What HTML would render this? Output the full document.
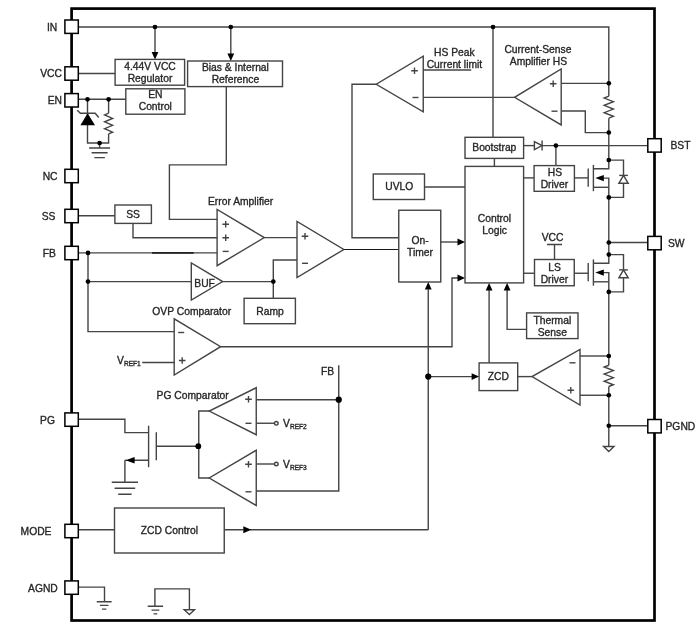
<!DOCTYPE html><html><head><meta charset="utf-8"><title>Block Diagram</title><style>
html,body{margin:0;padding:0;background:#fff;overflow:hidden;}
svg{display:block;will-change:transform;}
svg text{font-family:"Liberation Sans",sans-serif;font-size:10.3px;fill:#262626;stroke:#262626;stroke-width:0.33px;}
.wires path,.wires rect,.wires polygon,.wires circle{fill:none;stroke:#444;stroke-width:1.4;}
.wires .f{fill:#000;stroke:none;}
</style></head><body>
<svg width="700" height="627" viewBox="0 0 700 627">
<rect x="0" y="0" width="700" height="627" fill="#fff"/>
<rect x="71.6" y="8.6" width="582.9" height="611.9" fill="none" stroke="#000" stroke-width="2.7"/>
<g class="wires">
<path d="M79 27 H608.8 V96.2"/>
<path d="M608.80 96.20 L604.20 98.03 L613.40 101.70 L604.20 105.37 L613.40 109.03 L604.20 112.70 L613.40 116.37 L608.80 118.20"/>
<path d="M608.8 118.2 V160"/>
<path d="M155 27 V52"/>
<polygon points="151.6,52.1 158.4,52.1 155,59.6" class="f"/>
<path d="M230.8 27 V54"/>
<polygon points="227.4,53.5 234.20000000000002,53.5 230.8,61.0" class="f"/>
<path d="M493 27 V137.3"/>
<rect x="115.1" y="59.4" width="69.50" height="25.80"/>
<path d="M79 73.5 H115.1"/>
<rect x="125.8" y="88.8" width="59.10" height="25.40"/>
<path d="M79 99.3 H125.8"/>
<path d="M87.5 99.3 V143 H108.6 V134"/>
<polygon points="80.4,125.2 95.0,125.2 87.6,113.2" class="f"/>
<path d="M77.2 110.2 L80.4 113.2 H95.2 L98.7 117.5"/>
<path d="M108.6 99.3 V113.2"/>
<path d="M108.60 113.20 L104.60 114.92 L112.60 118.38 L104.60 121.83 L112.60 125.28 L104.60 128.72 L112.60 132.18 L108.60 133.90"/>
<path d="M99.6 143 V148"/>
<path d="M89.1 148 H110.1 M91.6 152.8 H107.6 M94.35 157.6 H104.85"/>
<rect x="187.6" y="61.0" width="94.90" height="25.60"/>
<path d="M226.3 86.75 V164.9 H169.4 V219.4 H217.1"/>
<rect x="114.9" y="205" width="36.50" height="18.40"/>
<path d="M79 215.7 H114.9"/>
<path d="M133 223.4 V237.7 H217.1"/>
<path d="M79 252.9 H217.1"/>
<path d="M152 252.9 H193.7" style="stroke:#222;stroke-width:1.6"/>
<path d="M88 252.9 V331.6 H174.2"/>
<path d="M88 281.6 H191.3"/>
<polygon points="217.1,209.4 217.1,265.7 264.3,237.6"/>
<path d="M222.39999999999998 224.3 H229.0 M225.7 221.0 V227.60000000000002"/>
<path d="M222.39999999999998 237.7 H229.0 M225.7 234.39999999999998 V241.0"/>
<path d="M222.7 251.4 H228.7"/>
<path d="M264.3 237.6 H297"/>
<polygon points="297,221.5 297,277.5 343.8,249.5"/>
<path d="M301.7 236.3 H308.3 M305 233.0 V239.60000000000002"/>
<path d="M302.0 263.3 H308.0"/>
<path d="M222.6 281.6 H273.3 V260 H297"/>
<path d="M273.3 281.6 V298.3"/>
<polygon points="191.3,262.9 191.3,300.0 222.6,281.6"/>
<rect x="244.1" y="298.3" width="51.30" height="25.40"/>
<polygon points="174.2,318.8 174.2,375 220.6,346.7"/>
<path d="M178.2 332.5 H184.2"/>
<path d="M178.89999999999998 360.5 H185.5 M182.2 357.2 V363.8"/>
<path d="M142.2 362.5 H174.2"/>
<path d="M220.6 346.7 H452 V278 H458"/>
<polygon points="457.5,274.6 457.5,281.4 465,278" class="f"/>
<path d="M343.8 249.5 H398.75" style="stroke:#1a1a1a;stroke-width:1.15"/>
<polygon points="423.25,56.25 423.25,111.75 376.25,84.25"/>
<path d="M411.2 70.8 H417.8 M414.5 67.5 V74.1"/>
<path d="M412.5 97.5 H418.5"/>
<path d="M376.25 84.25 H352 V237.75 H398.75"/>
<path d="M423.25 70 H471.25"/>
<path d="M423.25 97.4 H514.6"/>
<polygon points="561.2,69 561.2,124.9 514.6,97.3"/>
<path d="M549.9000000000001 83.8 H556.5 M553.2 80.5 V87.1"/>
<path d="M551.5 111.2 H557.5"/>
<path d="M561.2 83.4 H608.8"/>
<path d="M561.2 111 H585.3 V132.6 H608.8"/>
<rect x="465" y="137.3" width="58.60" height="21.10"/>
<path d="M523.6 145.6 H534.4"/>
<polygon points="534.4,141.6 534.4,149.6 542.1,145.6"/>
<path d="M542.1 140.6 V150.6"/>
<path d="M542.1 145.6 H647.5"/>
<path d="M555.9 145.6 V165.6"/>
<path d="M494.4 158.4 V166.4"/>
<rect x="465" y="166.4" width="58.60" height="116.50"/>
<rect x="373.25" y="174" width="51.25" height="25.50"/>
<path d="M424.5 187 H465"/>
<rect x="398.75" y="210.25" width="42.00" height="71.75"/>
<path d="M440.75 242 H458"/>
<polygon points="457.5,238.6 457.5,245.4 465,242" class="f"/>
<rect x="534.1" y="165.6" width="40.30" height="25.70"/>
<path d="M523.6 177.9 H534.1"/>
<path d="M574.4 177.9 H588.2"/>
<path d="M588.2 168.4 V186.79999999999998"/>
<path d="M593.4 164.9 V191.2"/>
<path d="M593.4 168.7 H608.8 V160.1"/>
<path d="M600 178.1 H608.8 V197.39999999999998"/>
<path d="M593.4 187.29999999999998 H608.8"/>
<polygon points="595.3,178.1 603.8,174.9 603.8,181.29999999999998" class="f"/>
<path d="M608.8 160.1 H623.5 V175.4"/>
<path d="M619.2 175.4 H627.9"/>
<polygon points="623.5,175.4 618.9,183.29999999999998 628.2,183.29999999999998"/>
<path d="M623.5 183.29999999999998 V197.39999999999998 H608.8"/>
<path d="M608.8 197.4 V254.6"/>
<path d="M608.8 242.5 H647.5"/>
<rect x="534.5" y="259.5" width="39.75" height="26.25"/>
<path d="M523.6 273.25 H534.5"/>
<path d="M574.25 273.25 H588.2"/>
<path d="M547 244.5 H562 M554.5 244.5 V259.5"/>
<path d="M588.2 262.9 V281.3"/>
<path d="M593.4 259.4 V285.7"/>
<path d="M593.4 263.2 H608.8 V254.6"/>
<path d="M600 272.6 H608.8 V291.9"/>
<path d="M593.4 281.8 H608.8"/>
<polygon points="595.3,272.6 603.8,269.40000000000003 603.8,275.8" class="f"/>
<path d="M608.8 254.6 H623.5 V269.9"/>
<path d="M619.2 269.9 H627.9"/>
<polygon points="623.5,269.9 618.9,277.8 628.2,277.8"/>
<path d="M623.5 277.8 V291.9 H608.8"/>
<path d="M608.8 291.9 V356"/>
<rect x="526.6" y="312.9" width="51.40" height="25.70"/>
<path d="M526.6 329.4 H507.1 V290"/>
<polygon points="503.70000000000005,290.4 510.5,290.4 507.1,282.9" class="f"/>
<rect x="479.1" y="362.9" width="38.60" height="27.70"/>
<path d="M489.1 362.9 V290"/>
<polygon points="485.70000000000005,290.4 492.5,290.4 489.1,282.9" class="f"/>
<path d="M428.25 376.6 H472"/>
<polygon points="471.6,373.20000000000005 471.6,380.0 479.1,376.6" class="f"/>
<polygon points="580,349.4 580,405 532,376.6"/>
<path d="M569.5 362.8 H575.5"/>
<path d="M567.5 390.3 H574.0999999999999 M570.8 387.0 V393.6"/>
<path d="M532 376.6 H517.7"/>
<path d="M580 356 H608.8"/>
<path d="M580 395.25 H608.8"/>
<path d="M608.80 365.25 L604.20 367.02 L613.40 370.56 L604.20 374.10 L613.40 377.65 L604.20 381.19 L613.40 384.73 L608.80 386.50"/>
<path d="M608.8 356 V365.25 M608.8 386.5 V446.5"/>
<path d="M608.8 425.75 H647.5"/>
<polygon points="603.6,446.5 614,446.5 608.8,451.6"/>
<path d="M428.25 529.75 V289.5"/>
<polygon points="424.85,289.5 431.65,289.5 428.25,282" class="f"/>
<rect x="114.5" y="508" width="109.75" height="45.00"/>
<path d="M79 529.75 H114.5"/>
<path d="M224.25 529.75 H243.5 M250 529.75 H428.25"/>
<polygon points="243.3,526.35 243.3,533.15 251.3,529.75" class="f"/>
<path d="M79 419.2 H124.9 V432.6 H148.6"/>
<path d="M148.6 425.7 V467.2"/>
<path d="M156.3 432.2 V460.3"/>
<path d="M156.3 446.3 H198.3"/>
<path d="M148.6 460.3 H133 M124.9 460.3 V482.3"/>
<path d="M124.9 460.3 H127"/>
<polygon points="125.6,460.3 134.6,457.1 134.6,463.5" class="f"/>
<path d="M111.75 482.3 H138.05 M114.60000000000001 488.3 H135.20000000000002 M118.2 494.3 H131.6"/>
<polygon points="256.25,387.75 256.25,434.75 209.25,411"/>
<path d="M245.2 399.3 H251.8 M248.5 396.0 V402.6"/>
<path d="M245.5 423.3 H251.5"/>
<polygon points="256.25,450.25 256.25,505.5 209.25,478"/>
<path d="M245.2 464.3 H251.8 M248.5 461.0 V467.6"/>
<path d="M245.5 491.8 H251.5"/>
<path d="M209.25 411 H198.75 V478 H209.25"/>
<path d="M256.25 399.7 H338.75"/>
<path d="M338.75 365.25 V491 H256.25"/>
<path d="M256.25 423.25 H274.5"/>
<path d="M256.25 464 H274.5"/>
<circle cx="276.3" cy="423.3" r="1.8"/>
<circle cx="276.3" cy="464" r="1.8"/>
<path d="M79 587.1 H104.5 V601.7"/>
<path d="M96.75 601.7 H111.65 M99.9 605.4000000000001 H108.5 M102.05 609.1 H106.35000000000001"/>
<path d="M154.9 606.3 V588.9 H189.4 V609.8"/>
<path d="M147.70000000000002 606.3 H163.1 M151.5 610.0999999999999 H159.3 M153.55 613.9 H157.25"/>
<polygon points="184.2,609.8 194.5,609.8 189.4,614.6"/>
<circle class="f" cx="155" cy="27" r="2.35"/>
<circle class="f" cx="230.8" cy="27" r="2.35"/>
<circle class="f" cx="493" cy="27" r="2.35"/>
<circle class="f" cx="87.5" cy="99.3" r="2.35"/>
<circle class="f" cx="108.6" cy="99.3" r="2.35"/>
<circle class="f" cx="99.6" cy="143" r="2.35"/>
<circle class="f" cx="88" cy="252.9" r="2.35"/>
<circle class="f" cx="88" cy="281.6" r="2.35"/>
<circle class="f" cx="273.3" cy="281.6" r="2.35"/>
<circle class="f" cx="608.8" cy="83.3" r="2.35"/>
<circle class="f" cx="608.8" cy="132.5" r="2.35"/>
<circle class="f" cx="555.9" cy="145.6" r="2.35"/>
<circle class="f" cx="608.8" cy="160.1" r="2.35"/>
<circle class="f" cx="608.8" cy="197.39999999999998" r="2.35"/>
<circle class="f" cx="608.8" cy="242.5" r="2.35"/>
<circle class="f" cx="608.8" cy="254.6" r="2.35"/>
<circle class="f" cx="608.8" cy="291.9" r="2.35"/>
<circle class="f" cx="428.25" cy="376.6" r="3.1"/>
<circle class="f" cx="608.8" cy="356" r="2.35"/>
<circle class="f" cx="608.8" cy="395.25" r="2.35"/>
<circle class="f" cx="608.8" cy="425.75" r="2.35"/>
<circle class="f" cx="198.3" cy="446.2" r="2.9"/>
<circle class="f" cx="338.75" cy="399.7" r="3.1"/>
</g>
<g fill="#fff" stroke="#000" stroke-width="1.5">
<rect x="64.9" y="20.0" width="13.4" height="13.4"/>
<rect x="64.9" y="66.8" width="13.4" height="13.4"/>
<rect x="64.9" y="93.6" width="13.4" height="13.4"/>
<rect x="64.9" y="169.3" width="13.4" height="13.4"/>
<rect x="64.9" y="209.3" width="13.4" height="13.4"/>
<rect x="64.9" y="246.3" width="13.4" height="13.4"/>
<rect x="64.9" y="412.9" width="13.4" height="13.4"/>
<rect x="64.9" y="524.3" width="13.4" height="13.4"/>
<rect x="64.9" y="580.9" width="13.4" height="13.4"/>
<rect x="647.8" y="138.7" width="13.4" height="13.4"/>
<rect x="647.8" y="236.4" width="13.4" height="13.4"/>
<rect x="647.8" y="419.5" width="13.4" height="13.4"/>
</g>
<g>
<text transform="translate(57.2 30.5) scale(1 1.0)" text-anchor="end">IN</text>
<text transform="translate(62 77.3) scale(1 1.0)" text-anchor="end">VCC</text>
<text transform="translate(62 104.3) scale(1 1.0)" text-anchor="end">EN</text>
<text transform="translate(57.5 179.8) scale(1 1.0)" text-anchor="end">NC</text>
<text transform="translate(55.5 219.8) scale(1 1.0)" text-anchor="end">SS</text>
<text transform="translate(56 256.8) scale(1 1.0)" text-anchor="end">FB</text>
<text transform="translate(55 423.9) scale(1 1.0)" text-anchor="end">PG</text>
<text transform="translate(51.5 534.8) scale(1 1.0)" text-anchor="end">MODE</text>
<text transform="translate(57.8 591.9) scale(1 1.0)" text-anchor="end">AGND</text>
<text transform="translate(670.5 148.8) scale(1 1.0)" text-anchor="start">BST</text>
<text transform="translate(668 246.8) scale(1 1.0)" text-anchor="start">SW</text>
<text transform="translate(665.5 430) scale(1 1.0)" text-anchor="start">PGND</text>
<text transform="translate(150 69.9) scale(1 1.0)" text-anchor="middle">4.44V VCC</text>
<text transform="translate(150 81.5) scale(1 1.0)" text-anchor="middle">Regulator</text>
<text transform="translate(155.3 98.2) scale(1 1.0)" text-anchor="middle">EN</text>
<text transform="translate(155.3 110.1) scale(1 1.0)" text-anchor="middle">Control</text>
<text transform="translate(235.4 71.4) scale(1 1.0)" text-anchor="middle">Bias &amp; Internal</text>
<text transform="translate(235.4 82.6) scale(1 1.0)" text-anchor="middle">Reference</text>
<text transform="translate(133.1 217.8) scale(1 1.0)" text-anchor="middle">SS</text>
<text transform="translate(240.6 205) scale(1 1.0)" text-anchor="middle">Error Amplifier</text>
<text transform="translate(204.6 287) scale(1 1.0)" text-anchor="middle">BUF</text>
<text transform="translate(270 315.2) scale(1 1.0)" text-anchor="middle">Ramp</text>
<text transform="translate(191.7 315.2) scale(1 1.0)" text-anchor="middle">OVP Comparator</text>
<text transform="translate(454.4 55.5) scale(1 1.0)" text-anchor="middle">HS Peak</text>
<text transform="translate(454.4 68) scale(1 1.0)" text-anchor="middle">Current limit</text>
<text transform="translate(537.9 52.5) scale(1 1.0)" text-anchor="middle">Current-Sense</text>
<text transform="translate(538.4 64.5) scale(1 1.0)" text-anchor="middle">Amplifier HS</text>
<text transform="translate(494.3 150.8) scale(1 1.0)" text-anchor="middle">Bootstrap</text>
<text transform="translate(494.4 222) scale(1 1.0)" text-anchor="middle">Control</text>
<text transform="translate(494.6 234) scale(1 1.0)" text-anchor="middle">Logic</text>
<text transform="translate(399.2 190.0) scale(1 1.1)" text-anchor="middle">UVLO</text>
<text transform="translate(420 243.9) scale(1 1.0)" text-anchor="middle">On-</text>
<text transform="translate(420 255.9) scale(1 1.0)" text-anchor="middle">Timer</text>
<text transform="translate(554.9 175.8) scale(1 1.0)" text-anchor="middle">HS</text>
<text transform="translate(554.4 187.5) scale(1 1.0)" text-anchor="middle">Driver</text>
<text transform="translate(552.5 240.7) scale(1 1.0)" text-anchor="middle">VCC</text>
<text transform="translate(554.6 270.8) scale(1 1.0)" text-anchor="middle">LS</text>
<text transform="translate(554.4 282.7) scale(1 1.0)" text-anchor="middle">Driver</text>
<text transform="translate(552.3 323.9) scale(1 1.0)" text-anchor="middle">Thermal</text>
<text transform="translate(552.3 335.6) scale(1 1.0)" text-anchor="middle">Sense</text>
<text transform="translate(498.4 380.4) scale(1 1.0)" text-anchor="middle">ZCD</text>
<text transform="translate(169.4 534.0) scale(1 1.06)" text-anchor="middle">ZCD Control</text>
<text transform="translate(192.6 398.9) scale(1 1.0)" text-anchor="middle">PG Comparator</text>
<text transform="translate(327.5 374.7) scale(1 1.0)" text-anchor="middle">FB</text>
<text transform="translate(117 364.3) scale(1 1.0)" text-anchor="start">V<tspan font-size="6.6" dy="1.6">REF1</tspan></text>
<text transform="translate(283 427.4) scale(1 1.0)" text-anchor="start">V<tspan font-size="6.6" dy="1.6">REF2</tspan></text>
<text transform="translate(283 468) scale(1 1.0)" text-anchor="start">V<tspan font-size="6.6" dy="1.6">REF3</tspan></text>
</g>
</svg></body></html>
